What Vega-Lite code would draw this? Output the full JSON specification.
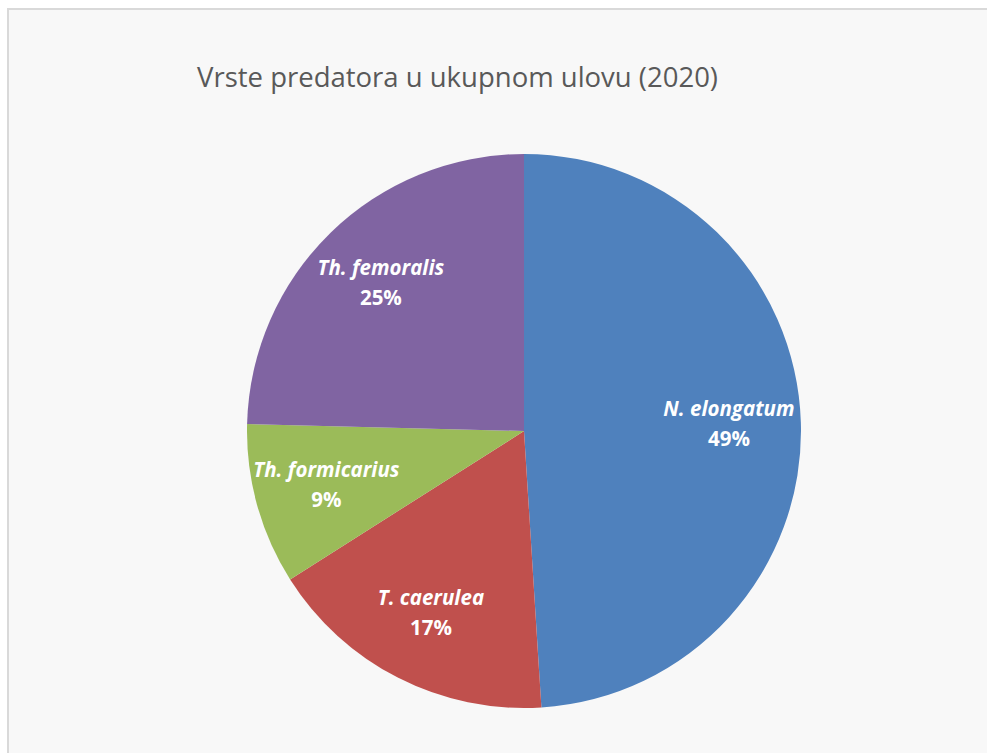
{
  "$schema": "https://vega.github.io/schema/vega-lite/v6.json",
  "autosize": {"type": "none"},
  "padding": {"left": 8, "top": 9, "right": 0, "bottom": 0},
  "width": 1032,
  "height": 844,
  "background": "white",
  "view": {"fill": "#f8f8f8", "stroke": "#d9d9d9", "strokeWidth": 2},
  "config": {
    "view": {"fill": "#f8f8f8", "stroke": "#d9d9d9", "strokeWidth": 2},
    "font": "Open Sans"
  },
  "title": {
    "text": "Vrste predatora u ukupnom ulovu (2020)",
    "anchor": "start",
    "frame": "group",
    "dx": 189,
    "offset": -105,
    "baseline": "alphabetic",
    "font": "Open Sans",
    "fontSize": 27.5,
    "fontWeight": "normal",
    "color": "#595959"
  },
  "data": {
    "values": [
      {"species": "N. elongatum", "share": 0.490, "idx": 1},
      {"species": "T. caerulea", "share": 0.170, "idx": 2},
      {"species": "Th. formicarius", "share": 0.094, "idx": 3},
      {"species": "Th. femoralis", "share": 0.246, "idx": 4}
    ]
  },
  "encoding": {
    "theta": {"field": "share", "type": "quantitative", "stack": true},
    "order": {"field": "idx", "type": "quantitative"}
  },
  "layer": [
    {
      "mark": {"type": "arc", "outerRadius": 277},
      "encoding": {
        "color": {
          "field": "species",
          "type": "nominal",
          "scale": {
            "domain": ["N. elongatum", "T. caerulea", "Th. formicarius", "Th. femoralis"],
            "range": ["#4F81BD", "#C0504D", "#9BBB59", "#8064A2"]
          },
          "legend": null
        }
      }
    },
    {
      "mark": {"type": "text", "radius": 205, "dy": -15, "font": "Open Sans", "fontSize": 20.5, "fontWeight": "bold", "fontStyle": "italic", "fill": "white"},
      "encoding": {"text": {"field": "species", "type": "nominal"}}
    },
    {
      "mark": {"type": "text", "radius": 205, "dy": 15, "font": "Open Sans", "fontSize": 20.5, "fontWeight": "bold", "fill": "white"},
      "encoding": {"text": {"field": "share", "type": "quantitative", "format": ".0%"}}
    }
  ]
}
